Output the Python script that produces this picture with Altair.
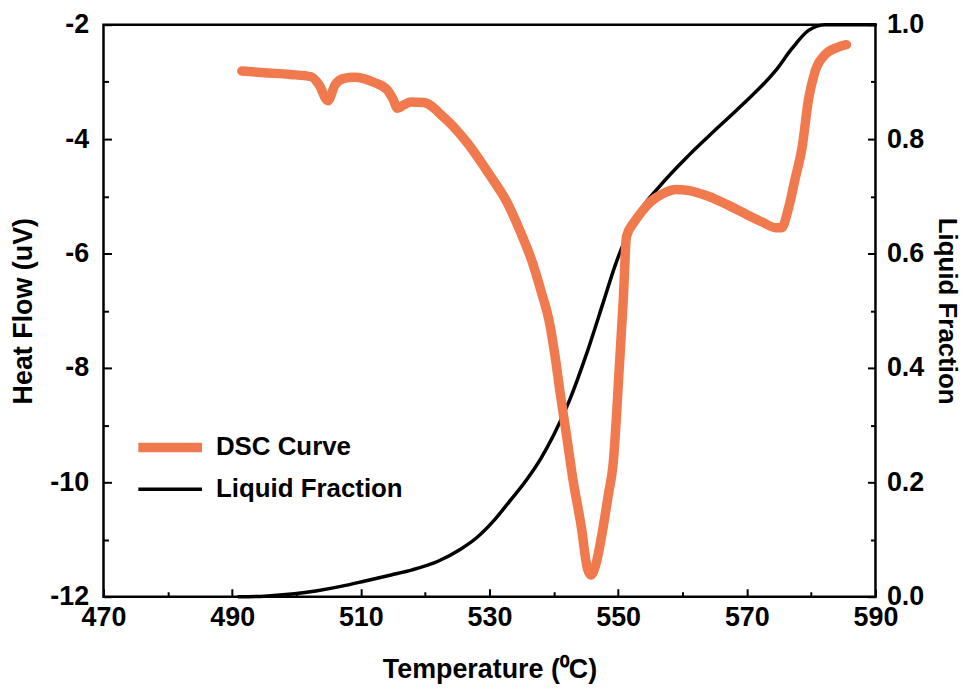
import altair as alt
import pandas as pd

# ---- data ----
dsc_temp = [491.5, 495.0, 499.0, 502.3, 503.5, 504.9, 506.0, 507.4, 509.0, 512.1,
            514.1, 515.0, 515.7, 516.7, 517.8, 519.8, 522.9, 526.5, 530.1, 532.7,
            534.8, 536.5, 538.0, 539.4, 540.2, 541.0, 542.0, 543.0, 544.3, 545.2,
            545.8, 546.5, 547.4, 548.5, 549.2, 550.2, 550.8, 551.3, 552.5, 553.8,
            555.0, 557.0, 559.0, 561.0, 564.0, 567.0, 569.3, 572.4, 574.5, 575.4,
            576.5, 577.5, 578.6, 579.6, 580.6, 582.2, 584.0, 585.5]
dsc_flow = [-2.81, -2.84, -2.87, -2.91, -3.05, -3.33, -3.05, -2.94, -2.92, -3.01,
            -3.14, -3.30, -3.46, -3.40, -3.35, -3.36, -3.62, -4.06, -4.64, -5.10,
            -5.62, -6.10, -6.65, -7.25, -7.80, -8.45, -9.20, -9.97, -10.80, -11.50,
            -11.62, -11.45, -10.96, -10.20, -9.70, -7.95, -6.80, -5.70, -5.45, -5.25,
            -5.10, -4.95, -4.88, -4.90, -5.00, -5.15, -5.28, -5.45, -5.55, -5.55,
            -5.20, -4.70, -4.14, -3.30, -2.82, -2.52, -2.40, -2.35]

lf_temp = [491.0, 495.0, 499.7, 503.0, 506.9, 510.5, 514.7, 518.0, 522.0, 525.5,
           528.0, 530.6, 533.0, 535.8, 538.0, 540.0, 542.5, 545.1, 547.7, 549.5,
           551.3, 553.0, 556.4, 561.0, 565.0, 569.3, 574.5, 577.0, 579.6, 582.2, 590.0]
lf_frac = [0.000, 0.001, 0.005, 0.010, 0.018, 0.027, 0.038, 0.047, 0.062, 0.083,
           0.103, 0.132, 0.165, 0.205, 0.242, 0.283, 0.345, 0.425, 0.515, 0.578,
           0.630, 0.668, 0.717, 0.772, 0.815, 0.860, 0.920, 0.958, 0.990, 1.000, 1.000]

x_major = [470, 490, 510, 530, 550, 570, 590]
x_minor = [480, 500, 520, 540, 560, 580]
left_major = [-12, -10, -8, -6, -4, -2]
left_minor = [-11, -9, -7, -5, -3]
right_major = [0.0, 0.2, 0.4, 0.6, 0.8, 1.0]
right_minor = [0.1, 0.3, 0.5, 0.7, 0.9]

series_names = ["DSC Curve", "Liquid Fraction"]
series_colors = ["#F07A4E", "#000000"]
series_widths = [9.5, 3.5]

x_title = "Temperature (\u2070C)"
left_title = "Heat Flow (uV)"
right_title = "Liquid Fraction"

# ---- tables ----
df_dsc = pd.DataFrame({"T": dsc_temp, "v": dsc_flow, "series": series_names[0]})
df_lf = pd.DataFrame({"T": lf_temp, "v": lf_frac, "series": series_names[1]})

FONT = "Liberation Sans"
MAJOR = 8
MINOR = 5

x_scale = alt.Scale(domain=[470, 590], nice=False, zero=False)
left_scale = alt.Scale(domain=[-12, -2], nice=False, zero=False)
right_scale = alt.Scale(domain=[0, 1], nice=False, zero=False)

legend = alt.Legend(
    title=None, orient="none", legendX=42, legendY=400,
    symbolType="M-1.6,0L1.6,0", symbolSize=1600, labelOffset=21,
    labelFont=FONT, labelFontSize=26, labelFontWeight="bold", labelColor="black",
    labelLimit=0, rowPadding=1, padding=0, symbolOpacity=1,
)

color = alt.Color("series:N", scale=alt.Scale(domain=series_names, range=series_colors), legend=legend)
width_enc = alt.StrokeWidth("series:N", scale=alt.Scale(domain=series_names, range=series_widths), legend=legend)


def tick_axis(values, size, **kw):
    return alt.Axis(values=values, offset=-size, tickSize=size, domain=False,
                    labelFlush=False, **kw)


lf_line = alt.Chart(df_lf).mark_line(strokeCap="round", strokeJoin="round", interpolate="monotone").encode(
    x=alt.X("T:Q", scale=x_scale,
            axis=tick_axis(x_major, MAJOR, orient="bottom", title=x_title,
                           labelPadding=8, titlePadding=26)),
    y=alt.Y("v:Q", scale=right_scale,
            axis=tick_axis(right_major, MAJOR, orient="right", title=right_title,
                           format=".1f", labelPadding=11, titlePadding=10, titleFontSize=26)),
    color=color,
    strokeWidth=width_enc,
)

dsc_line = alt.Chart(df_dsc).mark_line(strokeCap="round", strokeJoin="round", interpolate="monotone").encode(
    x=alt.X("T:Q", scale=x_scale, axis=None),
    y=alt.Y("v:Q", scale=left_scale,
            axis=tick_axis(left_major, MAJOR, orient="left", title=left_title,
                           labelExpr="'' + datum.value", labelPadding=15, titlePadding=12)),
    color=color,
    strokeWidth=width_enc,
)

minor_left = alt.Chart(df_dsc).mark_point(opacity=0).encode(
    x=alt.X("T:Q", scale=x_scale,
            axis=tick_axis(x_minor, MINOR, orient="bottom", labels=False, title=None)),
    y=alt.Y("v:Q", scale=left_scale,
            axis=tick_axis(left_minor, MINOR, orient="left", labels=False, title=None)),
)

minor_right = alt.Chart(df_lf).mark_point(opacity=0).encode(
    x=alt.X("T:Q", scale=x_scale, axis=None),
    y=alt.Y("v:Q", scale=right_scale,
            axis=tick_axis(right_minor, MINOR, orient="right", labels=False, title=None)),
)

chart = (
    alt.layer(lf_line, dsc_line, minor_left, minor_right)
    .resolve_scale(y="independent")
    .resolve_axis(x="independent", y="independent")
    .properties(
        width=776, height=575,
        autosize=alt.AutoSizeParams(type="none"),
        padding={"left": 96, "top": 15, "right": 90, "bottom": 94},
        background="white",
    )
    .configure_view(stroke="black", strokeWidth=2.5)
    .configure_axis(
        labelFont=FONT, labelFontSize=27, labelFontWeight="bold", labelColor="black",
        titleFont=FONT, titleFontSize=27, titleFontWeight="bold", titleColor="black",
        tickColor="black", tickWidth=2, grid=False, labelBound=False,
    )
)

chart.save("out.html", embed_options={"renderer": "svg", "actions": False})
